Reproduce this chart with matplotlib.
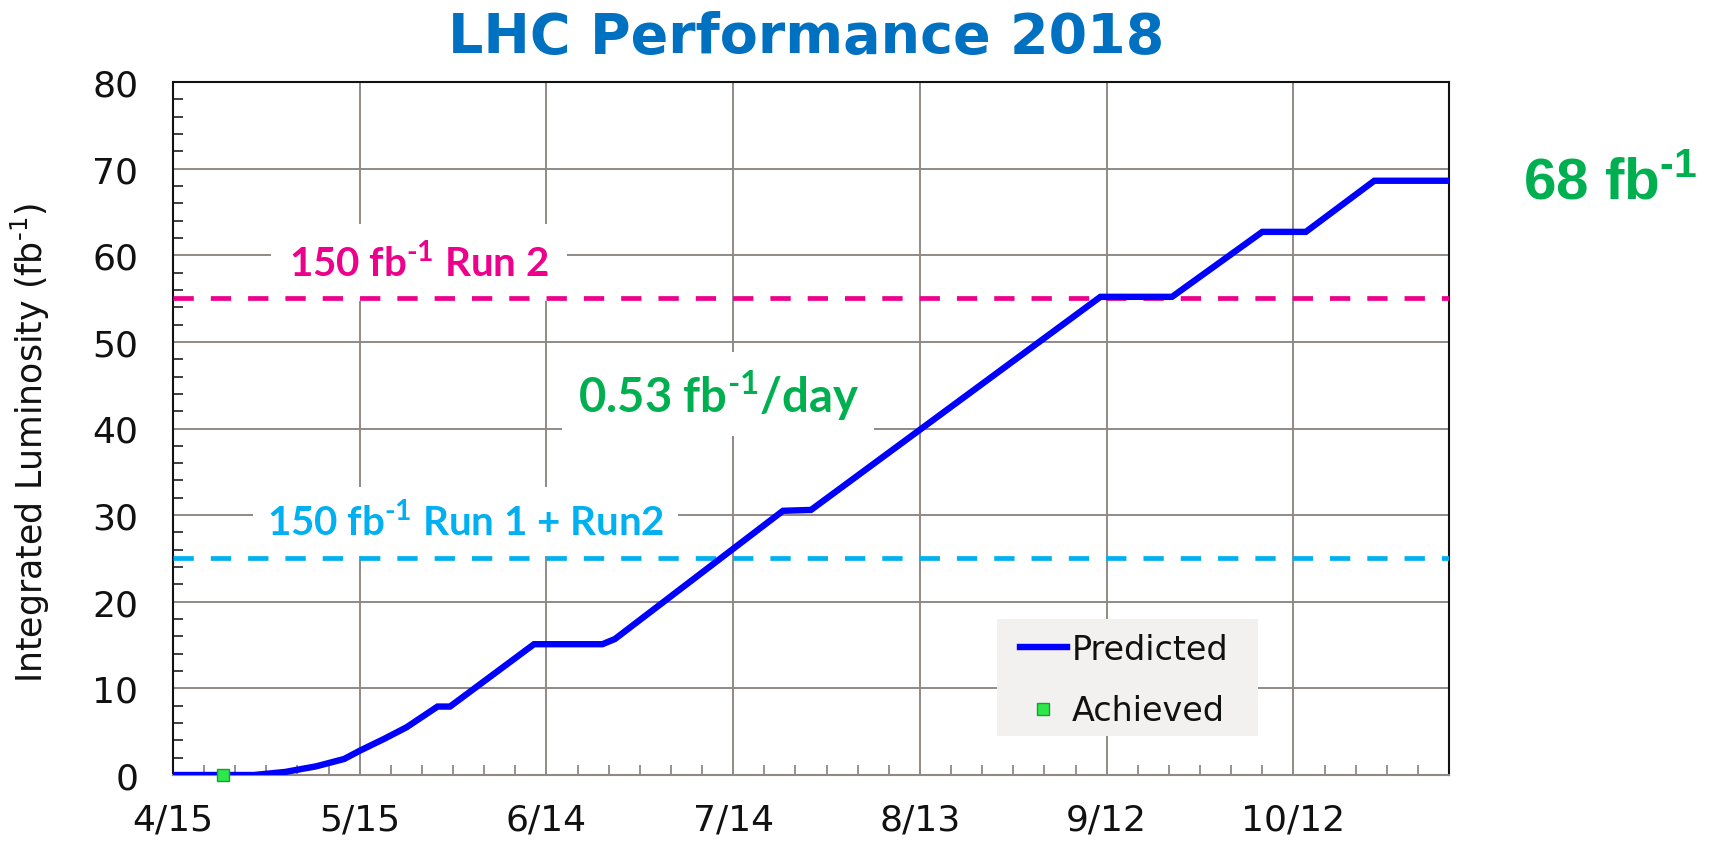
import matplotlib
matplotlib.use('Agg')
import matplotlib.pyplot as plt
from matplotlib.ticker import FixedLocator, MultipleLocator
from matplotlib.lines import Line2D
from matplotlib.patches import Rectangle

# ---------------- data ----------------
pred_day = [0, 13, 18, 23, 27.5, 30, 34, 37.5, 42.5, 44.5, 58, 69, 71, 98,
            102.5, 149, 160.5, 175, 182, 193, 205]
pred_lumi = [0, 0, 0.35, 1.0, 1.85, 2.8, 4.2, 5.5, 7.9, 7.9, 15.1, 15.1, 15.7,
             30.5, 30.6, 55.2, 55.2, 62.7, 62.7, 68.6, 68.6]
achieved_day = [8]
achieved_lumi = [0.0]
tick_days = [0, 30, 60, 90, 120, 150, 180]
tick_labels = ['4/15', '5/15', '6/14', '7/14', '8/13', '9/12', '10/12']
run2_target = 55.1
run1_run2_target = 25.1

# ---------------- style ----------------
BLUE = '#0000FF'
MAGENTA = '#EC008C'
CYAN = '#00B0F0'
GREEN = '#00B050'
TITLE = '#0070C0'
GRID = '#8F8A86'
LATO = ['Lato', 'DejaVu Sans']
SUP = '$^{\\mathregular{\u20101}}$'

W, H = 1711, 845
fig = plt.figure(figsize=(W / 100, H / 100), dpi=100)
ax = fig.add_axes([173 / W, 1 - 776 / H, 1276 / W, 693 / H])

ax.set_xlim(0, 205)
ax.set_ylim(0, 80)

ax.xaxis.set_major_locator(FixedLocator(tick_days))
ax.set_xticklabels(tick_labels)
ax.xaxis.set_minor_locator(MultipleLocator(5))
ax.yaxis.set_major_locator(MultipleLocator(10))
ax.yaxis.set_minor_locator(MultipleLocator(2))

ax.grid(True, which='major', color=GRID, linewidth=1.4, zorder=0)
ax.set_axisbelow(True)

ax.tick_params(axis='both', which='major', length=0, labelsize=26,
               labelcolor='#111111')
ax.tick_params(axis='x', which='major', pad=20)
ax.tick_params(axis='y', which='major', pad=25)
ax.tick_params(axis='x', which='minor', direction='in', length=7,
               width=1.3, color=GRID)
ax.tick_params(axis='y', which='minor', direction='in', length=7,
               width=1.3, color='#333333')

for side in ['left', 'top', 'right']:
    ax.spines[side].set_color('#111111')
    ax.spines[side].set_linewidth(1.5)
ax.spines['bottom'].set_color(GRID)
ax.spines['bottom'].set_linewidth(1.5)

# target lines
ax.axhline(run2_target, color=MAGENTA, linewidth=3.4, dashes=(4.3, 3.6),
           zorder=3)
ax.axhline(run1_run2_target, color=CYAN, linewidth=3.4, dashes=(4.3, 3.6),
           zorder=3)

# predicted and achieved
ax.plot(pred_day, pred_lumi, color=BLUE, linewidth=4.6, zorder=4,
        solid_joinstyle='miter')
ax.plot(achieved_day, achieved_lumi, linestyle='none', marker='s',
        markersize=8, markerfacecolor='#2EE84A', markeredgecolor='#1A9E2E',
        markeredgewidth=1, zorder=5, clip_on=False)

# annotations
ax.text(18.6, 57.6, '150 fb' + SUP + ' Run 2', color=MAGENTA,
        fontsize=29, fontweight='bold', family=LATO, ha='left', va='baseline',
        bbox=dict(facecolor='white', edgecolor='none', pad=13), zorder=2)
ax.text(65.0, 42.0, '0.53 fb' + SUP + '/day', color=GREEN,
        fontsize=34, fontweight='bold', family=LATO, ha='left', va='baseline',
        bbox=dict(facecolor='white', edgecolor='none', pad=11), zorder=2)
ax.text(15.1, 27.7, '150 fb' + SUP + ' Run 1 + Run2', color=CYAN,
        fontsize=29, fontweight='bold', family=LATO, ha='left', va='baseline',
        bbox=dict(facecolor='white', edgecolor='none', pad=10), zorder=2)

fig.text(1523 / W, 1 - 200 / H, '68 fb' + SUP, color=GREEN,
         fontsize=42, fontweight='bold', family=['Liberation Sans', 'DejaVu Sans'],
         ha='left', va='baseline')

fig.text(0.471, 1 - 38 / H, 'LHC Performance 2018', color=TITLE,
         fontsize=40, fontweight='bold', ha='center', va='center')

ax.set_ylabel('Integrated Luminosity (fb' + SUP + ')', fontsize=25,
              color='#111111')
ax.yaxis.label.set_va('center')
ax.yaxis.set_label_coords((30 - 173) / 1276, (776 - 443) / 693)

# legend
ax.add_patch(Rectangle((997 / W, 1 - 737 / H), 261 / W, 117 / H,
                       transform=fig.transFigure, facecolor='#F2F1EF',
                       edgecolor='none', zorder=6))
handles = [Line2D([], [], color=BLUE, linewidth=4.6),
           Line2D([], [], linestyle='none', marker='s', markersize=8,
                  markerfacecolor='#2EE84A', markeredgecolor='#1A9E2E',
                  markeredgewidth=1)]
leg = ax.legend(handles, ['Predicted', 'Achieved'], loc='upper left',
                bbox_to_anchor=(1020 / W, 1 - 634 / H),
                bbox_transform=fig.transFigure, frameon=False, fontsize=24,
                handlelength=1.4, handletextpad=0.15, borderpad=0,
                borderaxespad=0, labelspacing=0.85, numpoints=1)
leg.set_zorder(7)
for t in leg.get_texts():
    t.set_color('#111111')

fig.savefig('out.png', dpi=100)
